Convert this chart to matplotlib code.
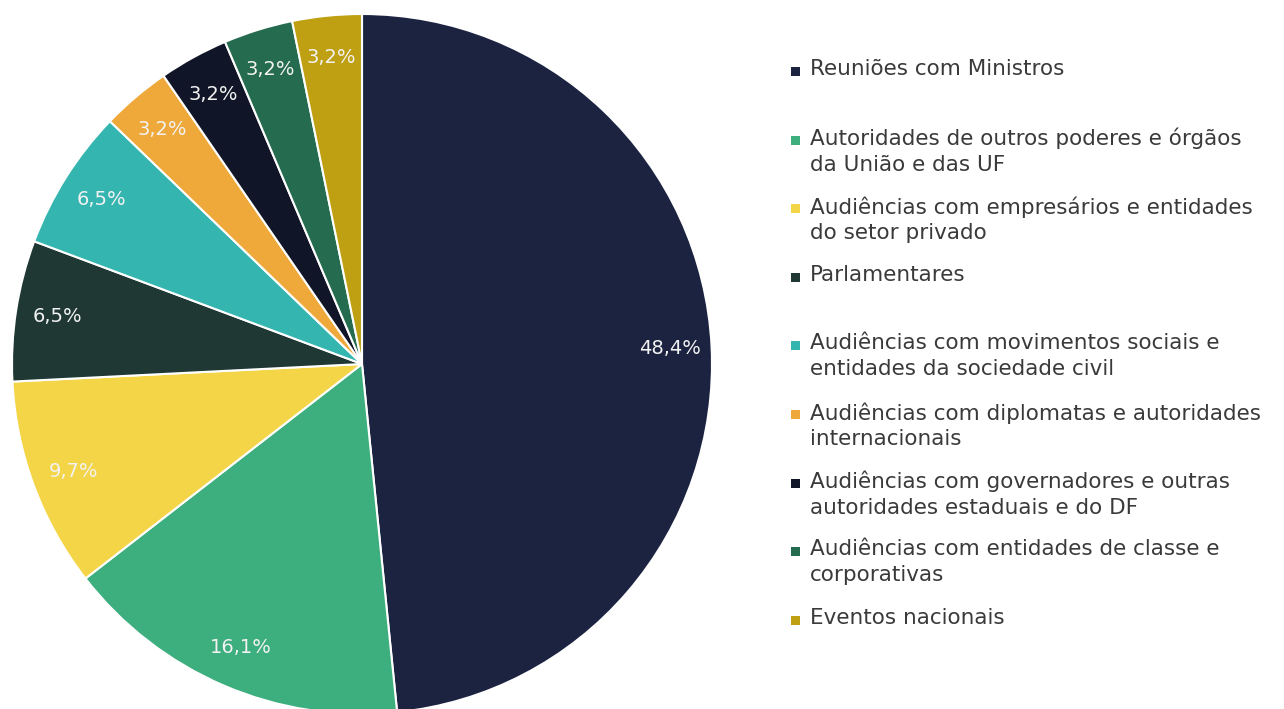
import matplotlib.pyplot as plt
from matplotlib.patches import Rectangle

# dados do grafico
categorias = ['Reuniões com Ministros',
              'Autoridades de outros poderes e órgãos\nda União e das UF',
              'Audiências com empresários e entidades\ndo setor privado',
              'Parlamentares',
              'Audiências com movimentos sociais e\nentidades da sociedade civil',
              'Audiências com diplomatas e autoridades\ninternacionais',
              'Audiências com governadores e outras\nautoridades estaduais e do DF',
              'Audiências com entidades de classe e\ncorporativas',
              'Eventos nacionais']
valores = [48.4, 16.1, 9.7, 6.5, 6.5, 3.2, 3.2, 3.2, 3.2]
rotulos = ['48,4%', '16,1%', '9,7%', '6,5%', '6,5%', '3,2%', '3,2%', '3,2%', '3,2%']
cores = ['#1B2340', '#3DAE7E', '#F4D547', '#1F3833', '#35B5B0',
         '#EEA93A', '#111528', '#246B4F', '#BFA012']

W, H = 1284, 709
fig = plt.figure(figsize=(W / 100, H / 100), dpi=100)
fig.patch.set_facecolor('white')

# pizza: centro (362, 364) px, raio 350 px
ax = fig.add_axes([12 / W, (H - 714) / H, 700 / W, 700 / H])
fatias, textos = ax.pie(valores, colors=cores, startangle=90, counterclock=False,
                        labels=rotulos, labeldistance=0.88,
                        wedgeprops=dict(edgecolor='white', linewidth=1.5),
                        textprops=dict(color='#F2F2F2', fontsize=14,
                                       family='DejaVu Sans'))
for t in textos:
    t.set_horizontalalignment('center')
    t.set_verticalalignment('center')
ax.set_xlim(-1, 1)
ax.set_ylim(-1, 1)
ax.set_aspect('equal')
ax.axis('off')

# legenda manual, uma entrada a cada ~68.6 px
y0 = 71
passo = 68.6
for i, (nome, cor) in enumerate(zip(categorias, cores)):
    y = y0 + i * passo
    fig.patches.append(Rectangle((791 / W, (H - y - 5) / H), 9 / W, 9 / H,
                                 transform=fig.transFigure, facecolor=cor,
                                 edgecolor='none'))
    fig.text(810 / W, (H - y + 12) / H, nome, ha='left', va='top',
             fontsize=15.5, color='#3A3A3A', family='DejaVu Sans',
             linespacing=1.35)

fig.savefig('out.png', dpi=100, facecolor='white')
